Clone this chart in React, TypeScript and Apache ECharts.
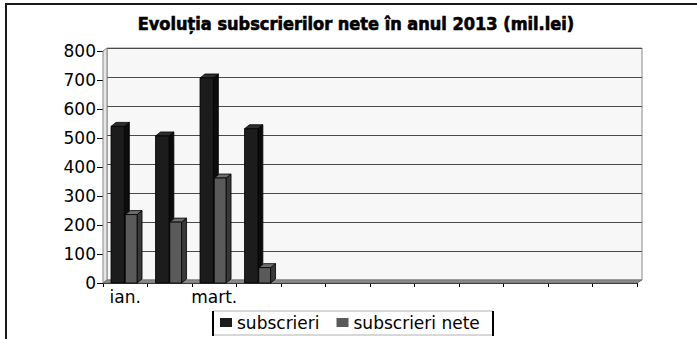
import React, { useEffect, useRef } from "react";
import * as echarts from "echarts";

const TITLE = "Evoluția subscrierilor nete în anul 2013 (mil.lei)";
const MONTHS = ["ian.", "feb.", "mart.", "apr.", "", "", "", "", "", "", "", ""];
const SERIES_NAMES = ["subscrieri", "subscrieri nete"];
const SUBSCRIERI = [540, 507, 707, 532];
const SUBSCRIERI_NETE = [236, 210, 362, 53];
const Y_TICKS = { min: 0, max: 800, interval: 100 };

const FONT = '"DejaVu Sans", "Liberation Sans", sans-serif';
const DX = 5;
const DY = -4;

function bar3d(offA: number, offB: number, front: string, side: string, topc: string) {
  return (params: any, api: any) => {
    const idx = api.value(0);
    const v = api.value(1);
    const base = api.coord([idx, 0]);
    const top = api.coord([idx, v]);
    const bw = api.size([1, 0])[0];
    const x0 = base[0] + offA * bw;
    const x1 = base[0] + offB * bw;
    const yT = top[1];
    const yB = base[1];
    const stroke = { stroke: "#000", lineWidth: 0.8 };
    return {
      type: "group",
      children: [
        {
          type: "polygon",
          shape: { points: [[x1, yB], [x1 + DX, yB + DY], [x1 + DX, yT + DY], [x1, yT]] },
          style: { fill: side, ...stroke },
        },
        {
          type: "polygon",
          shape: { points: [[x0, yT], [x1, yT], [x1 + DX, yT + DY], [x0 + DX, yT + DY]] },
          style: { fill: topc, ...stroke },
        },
        {
          type: "rect",
          shape: { x: x0, y: yT, width: x1 - x0, height: yB - yT },
          style: { fill: front, ...stroke },
        },
      ],
    };
  };
}

export default function App() {
  const ref = useRef<HTMLDivElement>(null);
  useEffect(() => {
    if (!ref.current) return;
    const chart = echarts.init(ref.current, null, { renderer: "svg" });
    const option: any = {
      animation: false,
      backgroundColor: "#fff",
      title: {
        text: TITLE,
        left: 351,
        textAlign: "center",
        top: 9,
        textStyle: {
          fontFamily: '"DejaVu Sans Condensed", "Liberation Sans Narrow", "DejaVu Sans", sans-serif',
          fontWeight: "bold",
          fontSize: 18,
          color: "#000",
          textBorderColor: "#000",
          textBorderWidth: 0.6,
        },
      },
      legend: {
        data: SERIES_NAMES,
        left: 220,
        top: 314,
        itemWidth: 12,
        itemHeight: 9,
        itemGap: 17,
        padding: 0,
        icon: "rect",
        textStyle: { fontFamily: FONT, fontSize: 17, color: "#000" },
      },
      grid: [
        { left: 103, right: 60, top: 51, bottom: 56 },
        {
          left: 107,
          right: 55,
          top: 48,
          bottom: 59,
          show: true,
          backgroundColor: "#f7f7f7",
          borderColor: "#8a8a8a",
          borderWidth: 1,
        },
      ],
      xAxis: [
        {
          type: "category",
          gridIndex: 0,
          data: MONTHS,
          boundaryGap: true,
          axisLine: { show: true, lineStyle: { color: "#000", width: 1 } },
          axisTick: { show: true, length: 4, interval: 0, lineStyle: { color: "#000" } },
          axisLabel: { interval: 1, margin: 5, fontFamily: FONT, fontSize: 17, color: "#000" },
          splitLine: { show: false },
        },
        {
          type: "category",
          gridIndex: 1,
          data: MONTHS,
          show: false,
        },
      ],
      yAxis: [
        {
          type: "value",
          gridIndex: 0,
          ...Y_TICKS,
          axisLine: { show: true, lineStyle: { color: "#000", width: 1 } },
          axisTick: { show: true, length: 6, lineStyle: { color: "#000" } },
          axisLabel: { margin: 7, fontFamily: FONT, fontSize: 17, color: "#000" },
          splitLine: { show: false },
        },
        {
          type: "value",
          gridIndex: 1,
          ...Y_TICKS,
          axisLine: { show: false },
          axisTick: { show: false },
          axisLabel: { show: false },
          splitLine: { show: true, lineStyle: { color: "#4a4a4a", width: 1.2 } },
        },
      ],
      series: [
        {
          type: "custom",
          name: "walls",
          xAxisIndex: 0,
          yAxisIndex: 0,
          z: 1,
          silent: true,
          data: [[0, 0]],
          renderItem: (params: any) => {
            const c = params.coordSys;
            const l = c.x, t = c.y, r = c.x + c.width, b = c.y + c.height;
            return {
              type: "group",
              children: [
                {
                  type: "polygon",
                  shape: { points: [[l, t], [l + 4, t - 3], [l + 4, b - 3], [l, b]] },
                  style: { fill: "#e6e6e6", stroke: "#888", lineWidth: 1 },
                },
                {
                  type: "polygon",
                  shape: { points: [[l, b], [l + 4, b - 3], [r + 5, b - 3], [r, b]] },
                  style: { fill: "#8a8a8a", stroke: "#777", lineWidth: 1 },
                },
              ],
            };
          },
        },
        {
          type: "custom",
          name: SERIES_NAMES[0],
          xAxisIndex: 0,
          yAxisIndex: 0,
          z: 3,
          itemStyle: { color: "#1c1c1c" },
          data: SUBSCRIERI.map((v, i) => [i, v]),
          renderItem: bar3d(-0.32, -0.02, "#1c1c1c", "#0c0c0c", "#2e2e2e"),
        },
        {
          type: "custom",
          name: SERIES_NAMES[1],
          xAxisIndex: 0,
          yAxisIndex: 0,
          z: 4,
          itemStyle: { color: "#5a5a5a" },
          data: SUBSCRIERI_NETE.map((v, i) => [i, v]),
          renderItem: bar3d(0, 0.265, "#5a5a5a", "#383838", "#6c6c6c"),
        },
      ],
      graphic: [
        {
          type: "rect",
          silent: true,
          shape: { x: 6, y: 4, width: 720, height: 360 },
          style: { fill: "none", stroke: "#1a1a1a", lineWidth: 2 },
          z: 10,
        },
        {
          type: "rect",
          silent: true,
          shape: { x: 213, y: 311, width: 280, height: 24 },
          style: { fill: "none", stroke: "#b0b0b0", lineWidth: 1 },
          z: 10,
        },
        {
          type: "line",
          silent: true,
          shape: { x1: 213, y1: 311, x2: 213, y2: 336 },
          style: { stroke: "#000", lineWidth: 2 },
          z: 11,
        },
        {
          type: "line",
          silent: true,
          shape: { x1: 493, y1: 311, x2: 493, y2: 336 },
          style: { stroke: "#000", lineWidth: 2 },
          z: 11,
        },
      ],
    };
    chart.setOption(option);
    return () => chart.dispose();
  }, []);
  return (
    <div
      ref={ref}
      style={{ position: "absolute", left: 0, top: 0, width: 697, height: 339 }}
    />
  );
}
